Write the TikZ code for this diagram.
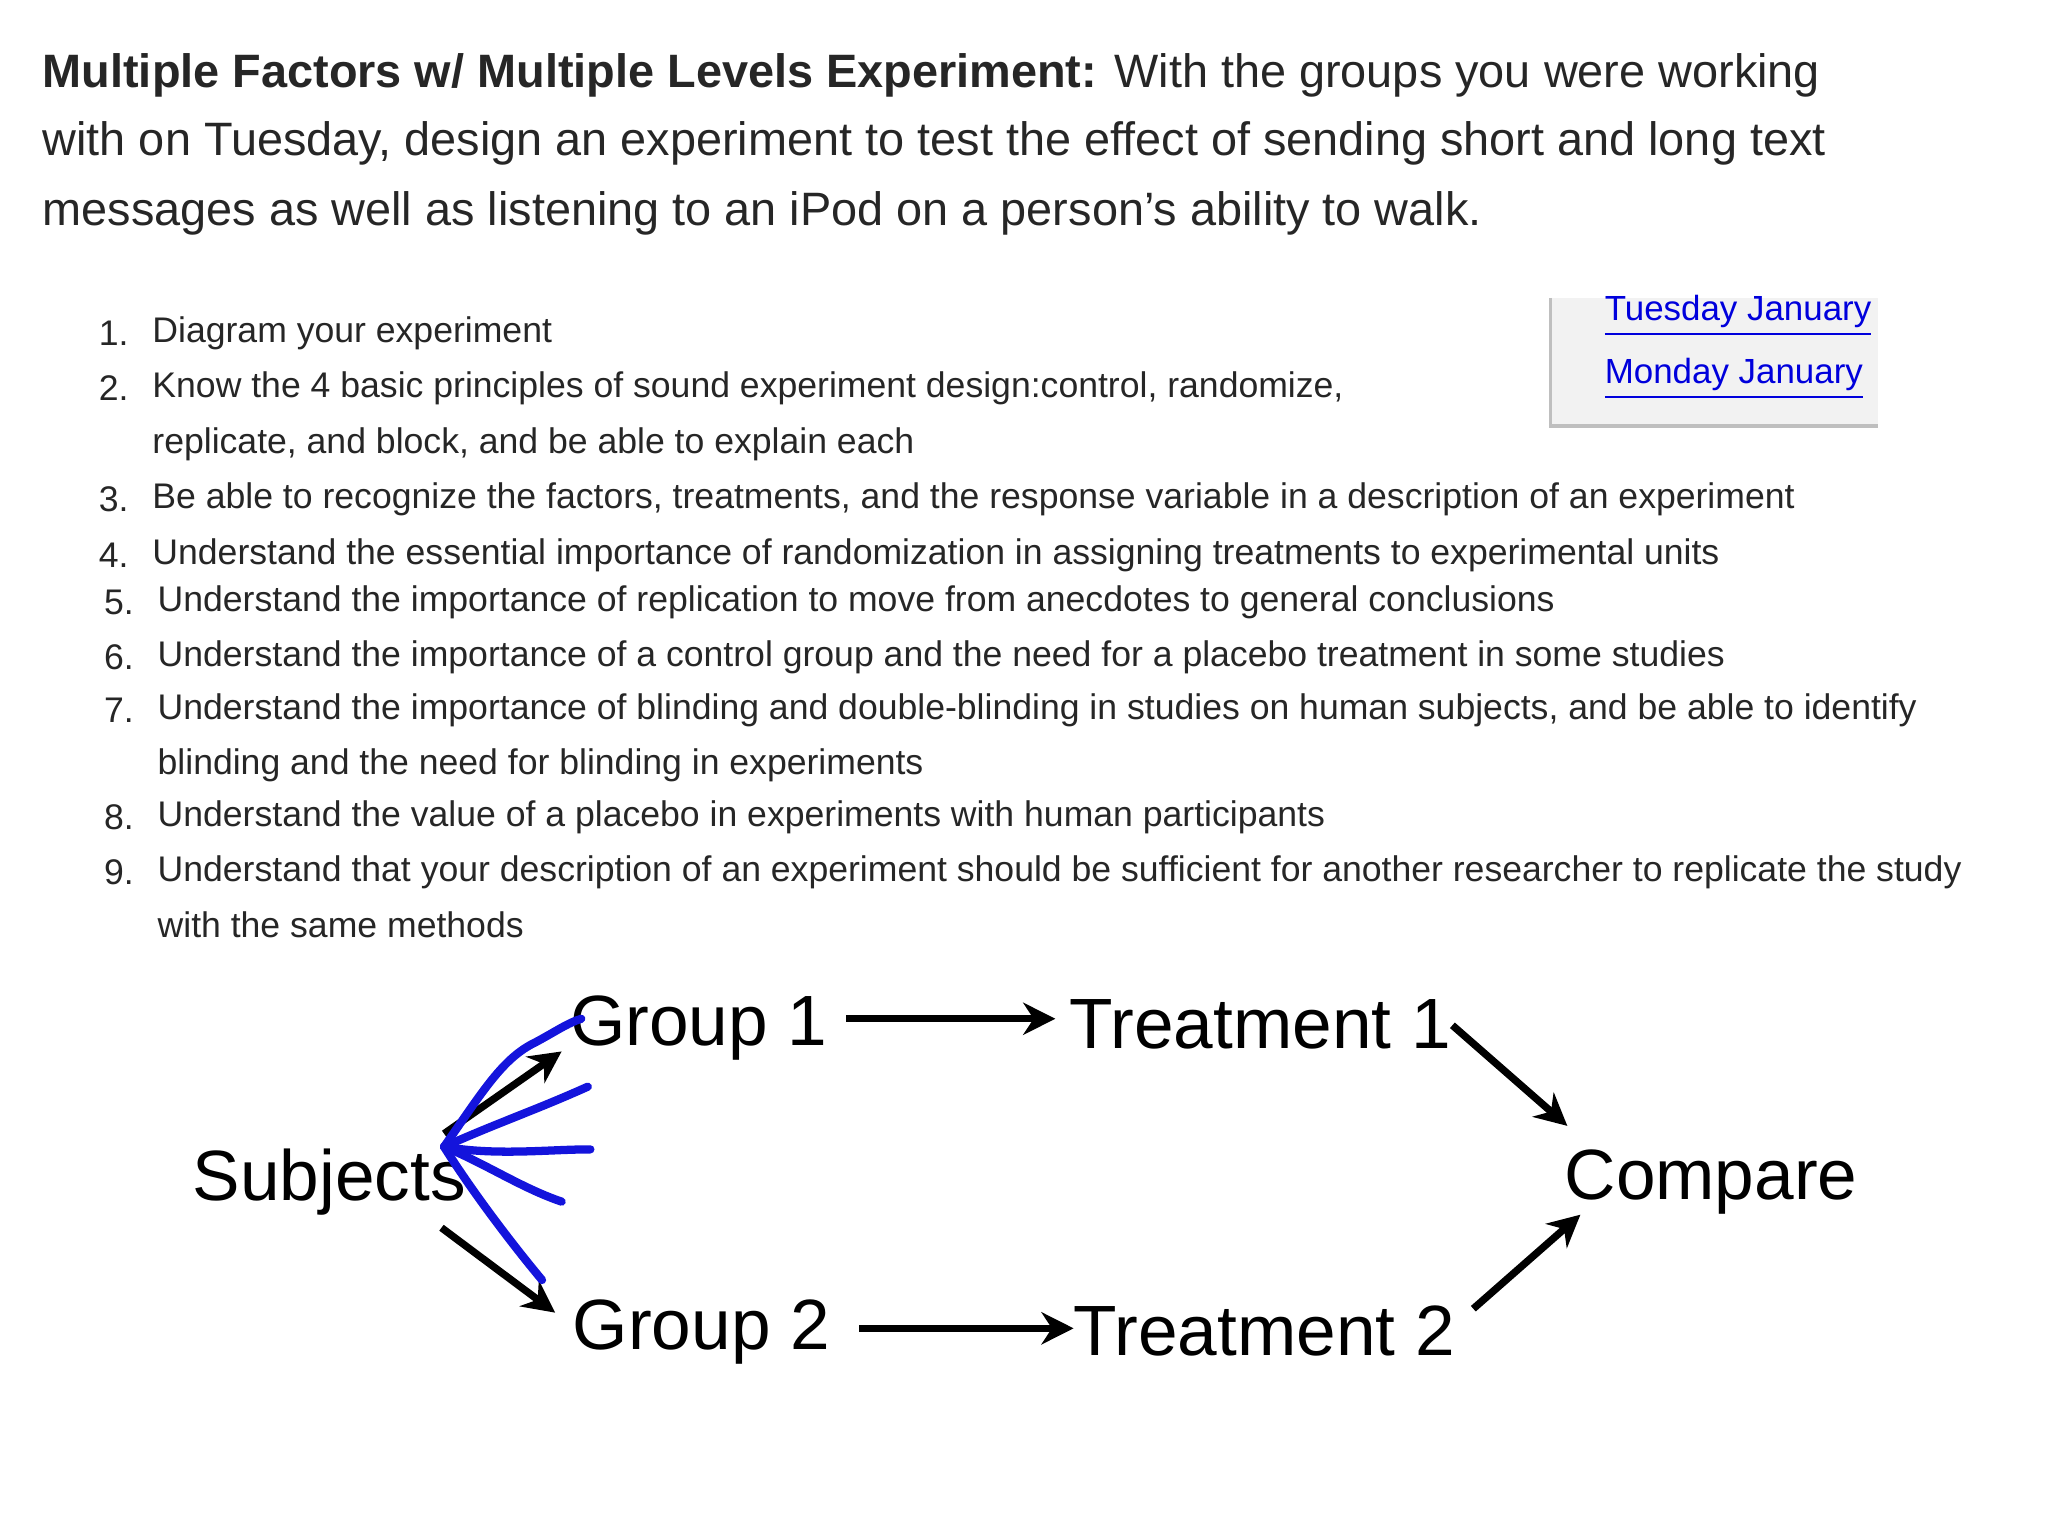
\documentclass[tikz,border=0pt]{standalone}
\usepackage{fontspec}
\setmainfont{Liberation Sans}
\usetikzlibrary{arrows.meta}
\begin{document}
\begin{tikzpicture}[x={(0.01cm,0)},y={(0,-0.01cm)},
  title/.style={anchor=west,inner sep=0,font=\fontsize{10.2}{12}\selectfont,text=black!85},
  item/.style={anchor=west,inner sep=0,font=\fontsize{7.75}{9}\selectfont,text=black!85},
  big/.style={inner sep=0,font=\fontsize{15.5}{18}\selectfont},
  arr/.style={line width=1.6pt,-{Stealth[length=7pt,width=7pt]}},
  blue/.style={draw={rgb,255:red,20;green,20;blue,220},line width=1.8pt,line cap=round},
  link/.style={anchor=west,inner sep=0,font=\fontsize{7.6}{9}\selectfont,text={rgb,255:red,0;green,0;blue,220}}]
\useasboundingbox (0,0) rectangle (1568,1176);
\node[title] (t1) at (32,58) {\textbf{Multiple Factors w/ Multiple Levels Experiment:} With the groups you were working};
\node[title] (t2) at (32,110) {with on Tuesday, design an experiment to test the effect of sending short and long text};
\node[title] (t3) at (32,163) {messages as well as listening to an iPod on a person's ability to walk.};
\foreach \n/\y/\t in {1/255/{Diagram your experiment},
 2/297/{Know the 4 basic principles of sound experiment design:control, randomize,},
 3/382/{Be able to recognize the factors, treatments, and the response variable in a description of an experiment},
 4/425/{Understand the essential importance of randomization in assigning treatments to experimental units}}
 {\node[item] (n\n) at (75,\y) {\n.}; \node[item] (i\n) at (116,\y) {\t};}
\node[item] (i2b) at (116,340) {replicate, and block, and be able to explain each};
\foreach \n/\y/\t in {5/461/{Understand the importance of replication to move from anecdotes to general conclusions},
 6/503/{Understand the importance of a control group and the need for a placebo treatment in some studies},
 7/544/{Understand the importance of blinding and double-blinding in studies on human subjects, and be able to identify},
 8/626/{Understand the value of a placebo in experiments with human participants},
 9/668/{Understand that your description of an experiment should be sufficient for another researcher to replicate the study}}
 {\node[item] (n\n) at (79,\y) {\n.}; \node[item] (i\n) at (120,\y) {\t};}
\node[item] (i7b) at (120,586) {blinding and the need for blinding in experiments};
\node[item] (i9b) at (120,708) {with the same methods};
\fill[black!5] (1187,228) rectangle (1438,326);
\draw[black!25,line width=0.8pt] (1187,228) -- (1187,326) -- (1438,326);
\node[link] (l1) at (1228,242) {\underline{Tuesday January}};
\node[link] (l2) at (1228,290) {\underline{Monday January}};
\node[big] (s) at (252,905) {Subjects};
\node[big] (g1) at (535,787) {Group 1};
\node[big] (tr1) at (965,784) {Treatment 1};
\node[big] (c) at (1310,905) {Compare};
\node[big] (g2) at (537,1020) {Group 2};
\node[big] (tr2) at (968,1019) {Treatment 2};
\coordinate (a1) at (340,868); \coordinate (a2) at (430,805);
\coordinate (b1) at (648,780); \coordinate (b2) at (808,780);
\coordinate (c1) at (1112,785); \coordinate (c2) at (1200,862);
\coordinate (d1) at (338,940); \coordinate (d2) at (425,1005);
\coordinate (e1) at (658,1017); \coordinate (e2) at (822,1017);
\coordinate (f1) at (1128,1002); \coordinate (f2) at (1210,930);
\draw[arr] (a1) -- (a2);
\draw[arr] (b1) -- (b2);
\draw[arr] (c1) -- (c2);
\draw[arr] (d1) -- (d2);
\draw[arr] (e1) -- (e2);
\draw[arr] (f1) -- (f2);
\coordinate (o) at (340,878);
\coordinate (u1) at (445,780); \coordinate (u2) at (450,832);
\coordinate (u3) at (452,880); \coordinate (u4) at (430,920); \coordinate (u5) at (415,980);
\draw[blue] (o) .. controls (370,835) and (385,810) .. (410,798) .. controls (425,790) and (435,783) .. (u1);
\draw[blue] (o) .. controls (380,860) and (410,850) .. (u2);
\draw[blue] (o) .. controls (380,885) and (420,880) .. (u3);
\draw[blue] (o) .. controls (370,890) and (400,910) .. (u4);
\draw[blue] (o) .. controls (360,910) and (390,950) .. (u5);
\end{tikzpicture}
\end{document}
